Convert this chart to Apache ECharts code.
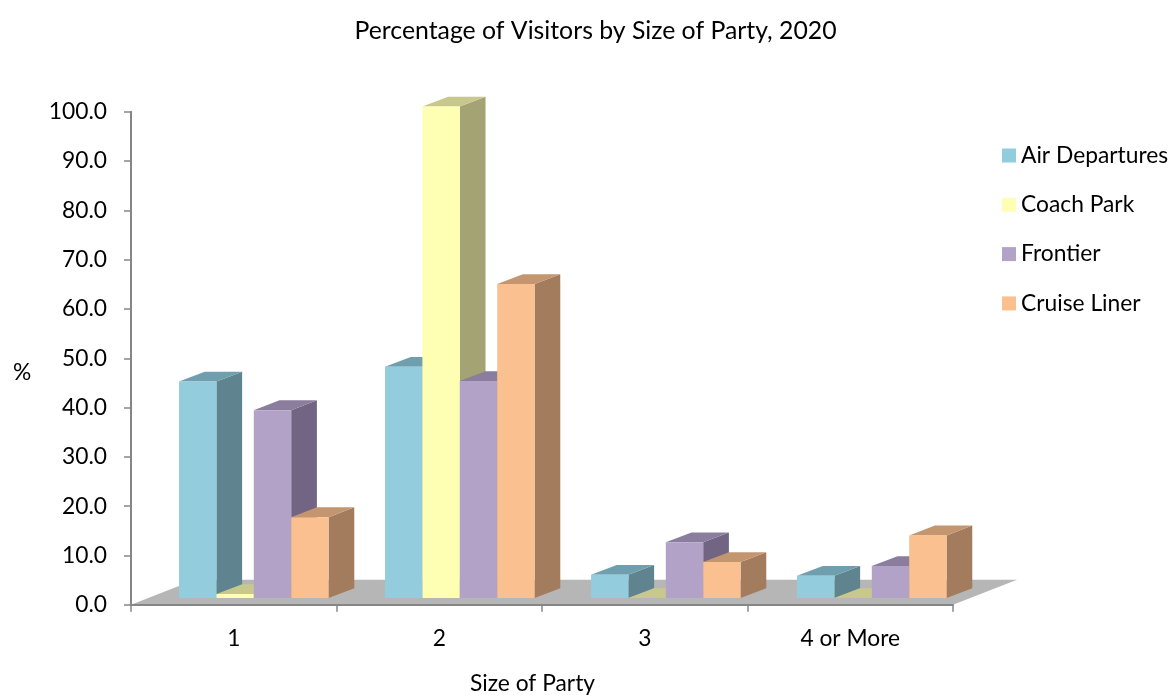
<!DOCTYPE html>
<html>
<head>
<meta charset="utf-8">
<style>html,body{margin:0;padding:0;background:#fff}#c{width:1172px;height:695px}</style>
<script src="https://cdn.jsdelivr.net/npm/echarts@6/dist/echarts.min.js"></script>
</head>
<body>
<div id="c"></div>
<script>
var categories = ['1', '2', '3', '4 or More'];
var seriesNames = ['Air Departures', 'Coach Park', 'Frontier', 'Cruise Liner'];
var airDepartures = [43.9, 46.9, 4.7, 4.5];
var coachPark = [0.8, 99.7, 0, 0];
var frontier = [38.1, 44.0, 11.3, 6.5];
var cruiseLiner = [16.4, 63.7, 7.3, 12.7];
var yTicks = { min: 0, max: 100, interval: 10 };
var titleText = 'Percentage of Visitors by Size of Party, 2020';
var xName = 'Size of Party';
var yName = '%';

var FONT = 'Lato';
var FS = 22.8;
var TXT = '#000';
var faces = [
  { front: '#93cddd', side: '#5f8490', top: '#6f9fae' },
  { front: '#ffffb3', side: '#a3a374', top: '#c8c88c' },
  { front: '#b3a2c7', side: '#716583', top: '#8a7d9e' },
  { front: '#fbc08f', side: '#a27c5c', top: '#c4966f' }
];
var DX = 25.7, DY = 9.8;

function barItem(i) {
  return function (params, api) {
    var cat = api.value(0), v = api.value(1);
    var c = api.coord([cat, v]);
    var b = api.coord([cat, 0]);
    var w = api.size([1, 0])[0] * 0.1815;
    var x0 = c[0] + (i - 2) * w, x1 = x0 + w, yt = c[1], yb = b[1];
    var f = faces[i];
    function poly(pts, color) {
      return { type: 'polygon', shape: { points: pts }, style: { fill: color, stroke: null } };
    }
    return {
      type: 'group',
      children: [
        poly([[x1, yt], [x1 + DX, yt - DY], [x1 + DX, yb - DY], [x1, yb]], f.side),
        poly([[x0, yt], [x0 + DX, yt - DY], [x1 + DX, yt - DY], [x1, yt]], f.top),
        poly([[x0, yt], [x1, yt], [x1, yb], [x0, yb]], f.front)
      ]
    };
  };
}

function floorItem(params) {
  var s = params.coordSys;
  var x = s.x, r = s.x + s.width, y = s.y + s.height;
  return {
    type: 'polygon',
    shape: { points: [[x, y], [x + 64, y - 25], [r + 64, y - 25], [r, y]] },
    style: { fill: '#b6b6b6', stroke: null }
  };
}

function rows(values) {
  return values.map(function (v, k) { return [k, v]; });
}

var allValues = [airDepartures, coachPark, frontier, cruiseLiner];
var series = [{
  type: 'custom', name: 'floor', xAxisIndex: 0, yAxisIndex: 0, z: 1, silent: true,
  renderItem: floorItem, data: [[0, 0]], clip: false, encode: { x: 0, y: 1 }
}];
allValues.forEach(function (vals, i) {
  series.push({
    type: 'custom', name: seriesNames[i], xAxisIndex: 1, yAxisIndex: 1, z: 2,
    renderItem: barItem(i), data: rows(vals), clip: false,
    encode: { x: 0, y: 1 },
    itemStyle: { color: faces[i].front }
  });
});

var axisLine = { show: true, onZero: false, lineStyle: { color: '#868686', width: 2 } };
var axisTick = { show: true, length: 7, lineStyle: { color: '#868686', width: 1.5 } };

var chart = echarts.init(document.getElementById('c'), null, { renderer: 'canvas' });
chart.setOption({
  animation: false,
  backgroundColor: '#fff',
  title: {
    text: titleText, left: 590.5, top: 14, textAlign: 'center',
    textStyle: { fontFamily: FONT, fontSize: 24.8, fontWeight: 'normal', color: TXT }
  },
  legend: {
    data: seriesNames, orient: 'vertical', left: 997, top: 139, itemWidth: 14, itemHeight: 14,
    itemGap: 26.3, selectedMode: false, icon: 'rect',
    textStyle: { fontFamily: FONT, fontSize: FS, color: TXT, padding: [0, 0, 0, 0] }
  },
  grid: [
    { left: 131, top: 111.8, width: 822, height: 493 },
    { left: 150.8, top: 105, width: 824, height: 493 }
  ],
  xAxis: [
    { type: 'category', gridIndex: 0, data: categories, z: 3, axisLine: axisLine,
      axisTick: Object.assign({ alignWithLabel: false }, axisTick),
      axisLabel: { fontFamily: FONT, fontSize: FS, color: TXT, margin: 22 } },
    { type: 'category', gridIndex: 1, data: categories, show: false }
  ],
  yAxis: [
    { type: 'value', gridIndex: 0, min: yTicks.min, max: yTicks.max, interval: yTicks.interval, z: 3,
      axisLine: axisLine, axisTick: axisTick, splitLine: { show: false },
      axisLabel: { fontFamily: FONT, fontSize: FS, color: TXT, margin: 24, padding: [5, 0, 0, 0],
        formatter: function (v) { return v.toFixed(1); } } },
    { type: 'value', gridIndex: 1, min: yTicks.min, max: yTicks.max, interval: yTicks.interval,
      show: false, splitLine: { show: false } }
  ],
  graphic: [
    { type: 'text', left: 13, top: 361, style: { text: yName, fontFamily: FONT, fontSize: FS, fill: TXT } },
    { type: 'text', left: 470, top: 672, style: { text: xName, fontFamily: FONT, fontSize: FS, fill: TXT } }
  ],
  series: series
});
</script>
</body>
</html>
